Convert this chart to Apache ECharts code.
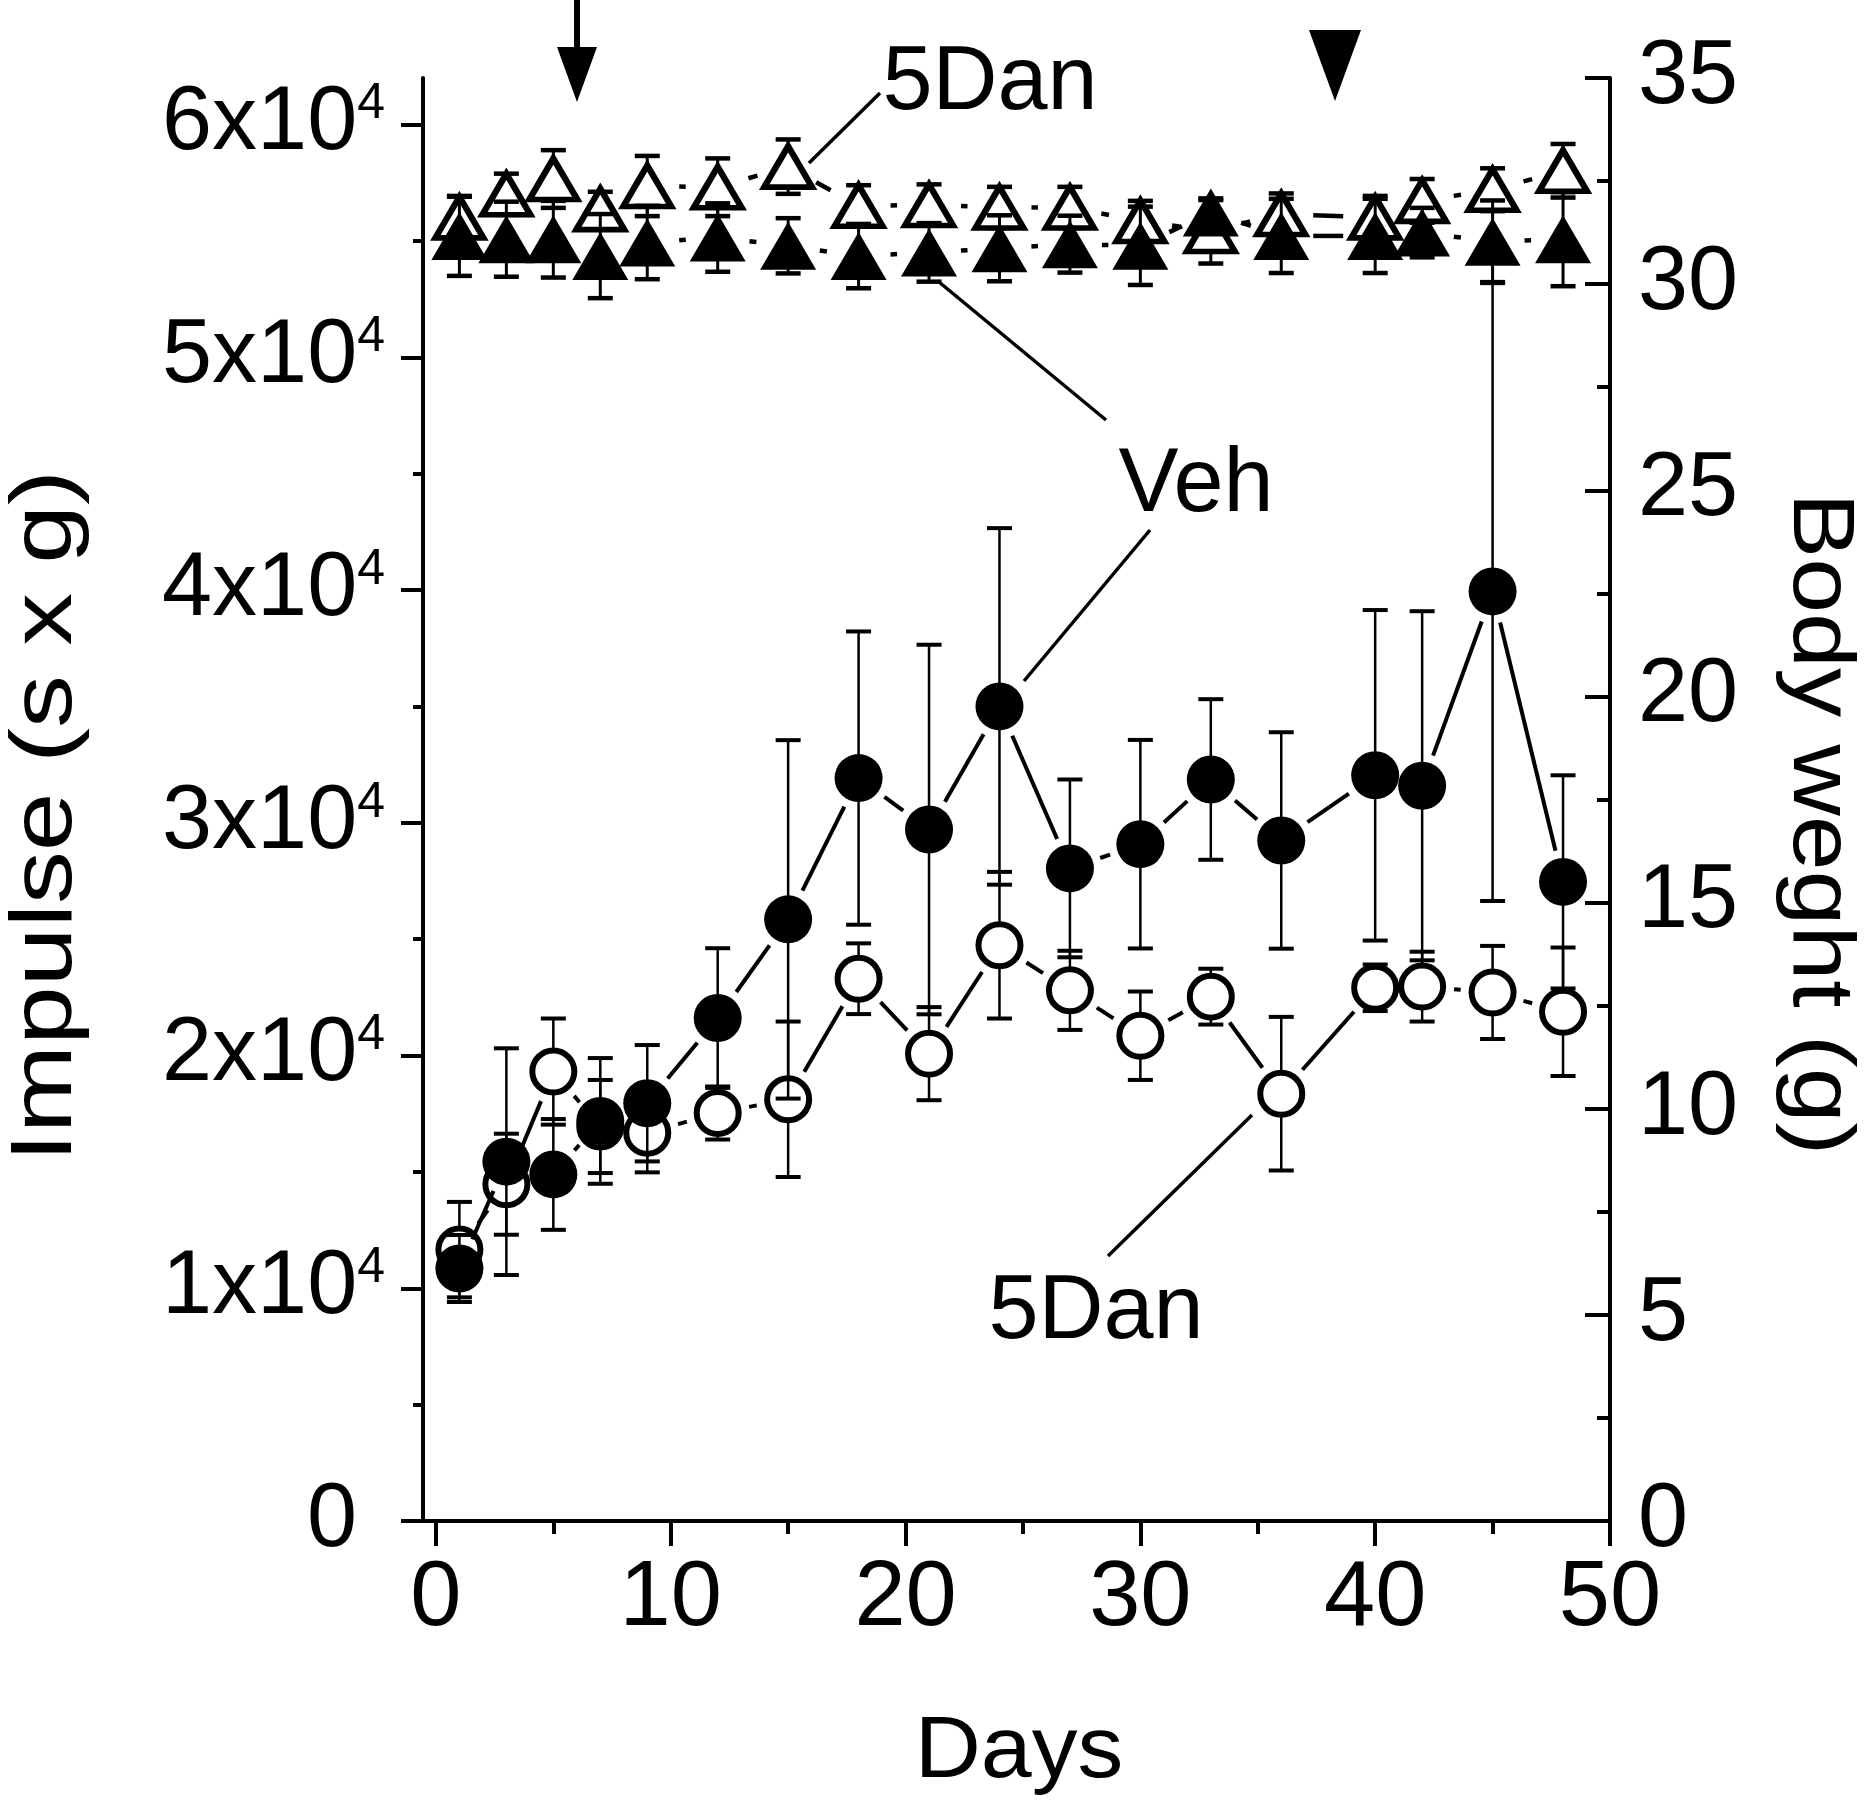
<!DOCTYPE html>
<html>
<head>
<meta charset="utf-8">
<script src="https://cdn.jsdelivr.net/npm/echarts@6/dist/echarts.min.js"></script>
<style>
html, body { margin: 0; padding: 0; background: #fff; }
#chart { width: 1867px; height: 1803px; }
</style>
</head>
<body>
<div id="chart"></div>
<script>
// days of measurement
const days = [1, 3, 5, 7, 9, 12, 15, 18, 21, 24, 27, 30, 33, 36, 40, 42, 45, 48];

// impulse (s x g), mean and SE
const vehImpulse = [10850, 15440, 14890, 17190, 17950, 21610, 25850, 31920, 29710, 35000, 28040, 29080, 31860, 29240, 32040, 31590, 39940, 27460];
const vehImpulseSE = [1440, 4870, 2380, 2700, 2500, 3000, 7700, 6300, 7940, 7660, 3820, 4480, 3450, 4650, 7100, 7500, 13300, 4580];
const danImpulse = [11660, 14470, 19310, 16950, 16680, 17530, 18120, 23300, 20080, 24740, 22800, 20850, 22530, 18360, 22910, 22960, 22710, 21880];
const danImpulseSE = [2050, 2170, 2280, 2000, 1700, 1140, 3340, 1520, 2000, 3150, 1700, 1900, 1200, 3300, 1000, 1500, 2000, 2760];

// body weight (g), mean and SE
const vehWeight = [31.17, 31.09, 31.09, 30.68, 31.01, 31.13, 30.93, 30.68, 30.77, 30.87, 30.97, 30.93, 31.74, 31.17, 31.17, 31.25, 31.03, 31.09];
const vehWeightSE = [0.97, 0.91, 0.93, 1.02, 0.89, 0.83, 0.67, 0.78, 0.71, 0.8, 0.69, 0.95, 0.3, 0.9, 0.9, 0.6, 1.0, 1.14];
const danWeight = [31.62, 32.18, 32.55, 31.82, 32.38, 32.35, 32.85, 31.9, 31.92, 31.86, 31.86, 31.53, 31.29, 31.7, 31.62, 32.02, 32.29, 32.75];
const danWeightSE = [0.5, 0.5, 0.7, 0.42, 0.73, 0.7, 0.66, 0.5, 0.5, 0.5, 0.5, 0.49, 0.79, 0.5, 0.52, 0.53, 0.52, 0.65];

// ticks
const dayTicks = [0, 10, 20, 30, 40, 50];
const dayMinorTicks = [5, 15, 25, 35, 45];
const impulseTicks = [0, 10000, 20000, 30000, 40000, 50000, 60000];
const impulseMinorTicks = [5000, 15000, 25000, 35000, 45000, 55000];

const FONT = 'Liberation Sans';
const GAP = 32; // line gap around symbols, px

function lineSeries(values, yAxisIndex, z, lw) {
  let data = [];
  for (let i = 0; i < days.length - 1; i++) {
    data.push([days[i], values[i], days[i + 1], values[i + 1]]);
  }
  return {
    type: 'custom', yAxisIndex: yAxisIndex, z: z, silent: true, clip: false,
    renderItem: function (params, api) {
      let a = api.coord([api.value(0), api.value(1)]);
      let b = api.coord([api.value(2), api.value(3)]);
      let dx = b[0] - a[0], dy = b[1] - a[1];
      let len = Math.sqrt(dx * dx + dy * dy);
      if (len <= 2 * GAP) return null;
      let ux = dx / len, uy = dy / len;
      return {
        type: 'line',
        shape: { x1: a[0] + ux * GAP, y1: a[1] + uy * GAP, x2: b[0] - ux * GAP, y2: b[1] - uy * GAP },
        style: { stroke: '#000', lineWidth: lw }
      };
    },
    data: data
  };
}

function errorSeries(values, se, yAxisIndex, z, stemW, capW) {
  let data = days.map(function (d, i) { return [d, values[i] - se[i], values[i] + se[i]]; });
  return {
    type: 'custom', yAxisIndex: yAxisIndex, z: z, silent: true, clip: false,
    renderItem: function (params, api) {
      let lo = api.coord([api.value(0), api.value(1)]);
      let hi = api.coord([api.value(0), api.value(2)]);
      let h = 12.5;
      return {
        type: 'group',
        children: [
          { type: 'line', shape: { x1: lo[0], y1: lo[1], x2: hi[0], y2: hi[1] }, style: { stroke: '#000', lineWidth: stemW } },
          { type: 'line', shape: { x1: hi[0] - h, y1: hi[1], x2: hi[0] + h, y2: hi[1] }, style: { stroke: '#000', lineWidth: capW } },
          { type: 'line', shape: { x1: lo[0] - h, y1: lo[1], x2: lo[0] + h, y2: lo[1] }, style: { stroke: '#000', lineWidth: capW } }
        ]
      };
    },
    data: data
  };
}

function markerSeries(values, yAxisIndex, z, symbol, size, open) {
  return {
    type: 'scatter', yAxisIndex: yAxisIndex, z: z, silent: true,
    symbol: symbol, symbolSize: size,
    itemStyle: open ? { color: '#fff', borderColor: '#000', borderWidth: 6, opacity: 1 } : { color: '#000', opacity: 1 },
    data: days.map(function (d, i) { return [d, values[i]]; })
  };
}

let chart = echarts.init(document.getElementById('chart'));

let option = {
  animation: false,
  backgroundColor: '#fff',
  grid: { left: 423, right: 257, top: 78, bottom: 282, containLabel: false, outerBoundsMode: 'none' },
  xAxis: [
    {
      type: 'value', min: -0.55, max: 50, position: 'bottom',
      axisLine: { show: true, onZero: false, lineStyle: { color: '#000', width: 4 } },
      axisTick: { show: true, customValues: dayTicks, length: 25, lineStyle: { color: '#000', width: 4 } },
      axisLabel: { show: true, customValues: dayTicks, margin: 33, fontSize: 92, fontFamily: FONT, color: '#000' },
      splitLine: { show: false }
    },
    {
      type: 'value', min: -0.55, max: 50, position: 'bottom',
      axisLine: { show: false, onZero: false },
      axisTick: { show: true, customValues: dayMinorTicks, length: 13, lineStyle: { color: '#000', width: 4 } },
      axisLabel: { show: false },
      splitLine: { show: false }
    }
  ],
  yAxis: [
    {
      type: 'value', min: 0, max: 62000, position: 'left',
      axisLine: { show: true, onZero: false, lineStyle: { color: '#000', width: 4 } },
      axisTick: { show: true, customValues: impulseTicks, length: 22, lineStyle: { color: '#000', width: 4 } },
      axisLabel: {
        show: true, customValues: impulseTicks, margin: 38, fontSize: 90, fontFamily: FONT, color: '#000',
        formatter: function (v) {
          if (v === 0) return '{z|0}';
          return '{a|' + (v / 10000) + 'x10}{b|4}';
        },
        rich: {
          a: { fontSize: 90, fontFamily: FONT, color: '#000' },
          b: { fontSize: 50, fontFamily: FONT, color: '#000', verticalAlign: 'top', lineHeight: 20 },
          z: { fontSize: 90, fontFamily: FONT, color: '#000', padding: [0, 28, 0, 0] }
        }
      },
      splitLine: { show: false }
    },
    {
      type: 'value', min: 0, max: 62000, position: 'left',
      axisLine: { show: false, onZero: false },
      axisTick: { show: true, customValues: impulseMinorTicks, length: 10, lineStyle: { color: '#000', width: 4 } },
      axisLabel: { show: false },
      splitLine: { show: false }
    },
    {
      type: 'value', min: 0, max: 35, interval: 5, position: 'right',
      axisLine: { show: true, onZero: false, lineStyle: { color: '#000', width: 4 } },
      axisTick: { show: true, inside: true, length: 25, lineStyle: { color: '#000', width: 4 } },
      minorTick: { show: true, splitNumber: 2, length: 13, lineStyle: { color: '#000', width: 4 } },
      axisLabel: { show: true, margin: 28, fontSize: 90, fontFamily: FONT, color: '#000' },
      splitLine: { show: false },
      minorSplitLine: { show: false }
    }
  ],
  series: [
    // 5Dan impulse (open circles)
    lineSeries(danImpulse, 0, 2, 4),
    errorSeries(danImpulse, danImpulseSE, 0, 3, 2.5, 4),
    markerSeries(danImpulse, 0, 4, 'circle', 42, true),
    // Veh impulse (filled circles)
    lineSeries(vehImpulse, 0, 5, 4),
    errorSeries(vehImpulse, vehImpulseSE, 0, 6, 2.5, 4),
    markerSeries(vehImpulse, 0, 7, 'circle', 48, false),
    // 5Dan body weight (open triangles)
    lineSeries(danWeight, 2, 2, 4.5),
    errorSeries(danWeight, danWeightSE, 2, 3, 3, 4.5),
    markerSeries(danWeight, 2, 4, 'triangle', [48, 41], true),
    // Veh body weight (filled triangles)
    lineSeries(vehWeight, 2, 5, 4.5),
    errorSeries(vehWeight, vehWeightSE, 2, 6, 3, 4.5),
    markerSeries(vehWeight, 2, 7, 'triangle', [56, 48], false)
  ],
  graphic: [
    { type: 'text', x: 47, y: 816, rotation: Math.PI / 2, scaleX: 1.2, silent: true,
      style: { text: 'Impulse (s x g)', fontSize: 88, fontFamily: FONT, fill: '#000', align: 'center', verticalAlign: 'middle' } },
    { type: 'text', x: 1818, y: 824, rotation: -Math.PI / 2, scaleX: 1.12, silent: true,
      style: { text: 'Body weght (g)', fontSize: 88, fontFamily: FONT, fill: '#000', align: 'center', verticalAlign: 'middle' } },
    { type: 'text', x: 1019, y: 1753, scaleX: 1.04, silent: true,
      style: { text: 'Days', fontSize: 88, fontFamily: FONT, fill: '#000', align: 'center', verticalAlign: 'middle' } },
    // annotations
    { type: 'text', x: 990, y: 84, silent: true,
      style: { text: '5Dan', fontSize: 90, fontFamily: FONT, fill: '#000', align: 'center', verticalAlign: 'middle' } },
    { type: 'text', x: 1196, y: 486, silent: true,
      style: { text: 'Veh', fontSize: 90, fontFamily: FONT, fill: '#000', align: 'center', verticalAlign: 'middle' } },
    { type: 'text', x: 1096, y: 1313, silent: true,
      style: { text: '5Dan', fontSize: 90, fontFamily: FONT, fill: '#000', align: 'center', verticalAlign: 'middle' } },
    { type: 'line', silent: true, shape: { x1: 880, y1: 93, x2: 809, y2: 163 }, style: { stroke: '#000', lineWidth: 3.5 } },
    { type: 'line', silent: true, shape: { x1: 939, y1: 282, x2: 1106, y2: 420 }, style: { stroke: '#000', lineWidth: 3.5 } },
    { type: 'line', silent: true, shape: { x1: 1150, y1: 530, x2: 1024, y2: 681 }, style: { stroke: '#000', lineWidth: 3.5 } },
    { type: 'line', silent: true, shape: { x1: 1108, y1: 1256, x2: 1252, y2: 1115 }, style: { stroke: '#000', lineWidth: 3.5 } },
    // arrow and arrowhead marks at the top
    { type: 'line', silent: true, shape: { x1: 577, y1: 0, x2: 577, y2: 55 }, style: { stroke: '#000', lineWidth: 6 } },
    { type: 'polygon', silent: true, shape: { points: [[557, 47], [597, 47], [577, 102]] }, style: { fill: '#000' } },
    { type: 'polygon', silent: true, shape: { points: [[1309, 30], [1361, 30], [1335, 101]] }, style: { fill: '#000' } }
  ]
};

chart.setOption(option);
</script>
</body>
</html>
